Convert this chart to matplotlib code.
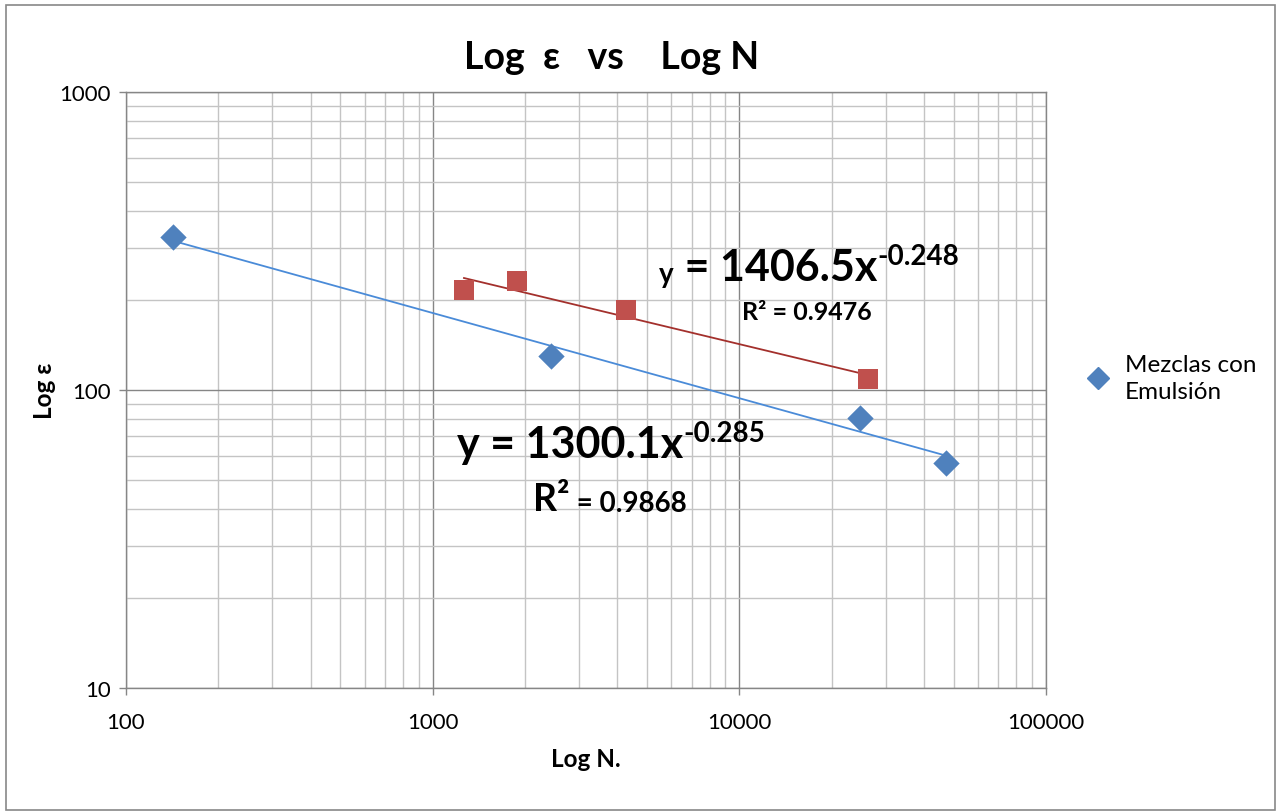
"""Log eps vs Log N: fatigue points for two mixtures with power-law trendlines."""
import matplotlib
matplotlib.use("Agg")
import matplotlib.pyplot as plt
import numpy as np
from matplotlib.lines import Line2D
from matplotlib.patches import Rectangle
from matplotlib.ticker import LogLocator, FixedFormatter, FixedLocator, NullFormatter

plt.rcParams["font.family"] = ["Lato", "DejaVu Sans"]

# ── data ───────────────────────────────────────────────────
N_EMUL = [142, 2430, 24700, 47200]
EPS_EMUL = [326, 130, 80.5, 57]
N_OTHER = [1265, 1885, 4270, 26200]
EPS_OTHER = [216, 232, 185, 109]

X_TICKS = [100, 1000, 10000, 100000]
X_LABELS = ["100", "1000", "10000", "100000"]
Y_TICKS = [10, 100, 1000]
Y_LABELS = ["10", "100", "1000"]

BLUE = "#4F81BD"
BLUE_LINE = "#4A8BD8"
RED = "#C0504D"
RED_LINE = "#A3302C"
GRID_MAJ = "#868686"
GRID_MIN = "#C4C4C4"

W, H = 1276, 812


def fx(px):
    return px / W


def fy(py):
    return 1 - py / H


def power_fit(x, y):
    slope, icpt = np.polyfit(np.log10(x), np.log10(y), 1)
    xs = np.array([min(x), max(x)], dtype=float)
    return xs, 10 ** icpt * xs ** slope


fig = plt.figure(figsize=(W / 100, H / 100), dpi=100)
ax = fig.add_axes([fx(126), fy(689), fx(1046) - fx(126), fy(93) - fy(689)])

ax.set_xscale("log")
ax.set_yscale("log")
ax.set_xlim(100, 100000)
ax.set_ylim(10, 1000)

ax.xaxis.set_major_locator(FixedLocator(X_TICKS))
ax.xaxis.set_major_formatter(FixedFormatter(X_LABELS))
ax.yaxis.set_major_locator(FixedLocator(Y_TICKS))
ax.yaxis.set_major_formatter(FixedFormatter(Y_LABELS))
for a in (ax.xaxis, ax.yaxis):
    a.set_minor_locator(LogLocator(base=10, subs=np.arange(2, 10)))
    a.set_minor_formatter(NullFormatter())

ax.grid(True, which="major", color=GRID_MAJ, lw=1.0, zorder=0)
ax.grid(True, which="minor", color=GRID_MIN, lw=1.0, zorder=0)
ax.set_axisbelow(True)
for s in ax.spines.values():
    s.set_color(GRID_MAJ)
    s.set_linewidth(1.0)
ax.tick_params(which="major", direction="out", length=5, width=1,
               color=GRID_MAJ, labelsize=16)
ax.tick_params(axis="x", which="major", pad=12)
ax.tick_params(axis="y", which="major", pad=6)
ax.tick_params(which="minor", length=0)

# trendlines (power fits)
xs, ys = power_fit(N_EMUL, EPS_EMUL)
ax.plot(xs, ys, color=BLUE_LINE, lw=1.3, zorder=2)
xs, ys = power_fit(N_OTHER, EPS_OTHER)
ax.plot(xs, ys, color=RED_LINE, lw=1.3, zorder=2)

ax.scatter(N_EMUL, EPS_EMUL, marker="D", s=180, color=BLUE, zorder=3,
           linewidths=0)
ax.scatter(N_OTHER, EPS_OTHER, marker="s", s=210, color=RED, zorder=3,
           linewidths=0)

ax.set_xlabel("Log N.", fontsize=17.5, fontweight="bold", labelpad=11)
ax.set_ylabel("Log ε", fontsize=17.5, fontweight="bold", labelpad=2)

fig.text(fx(612), fy(58), "Log  ε   vs    Log N", ha="center", va="center",
         fontsize=27, fontweight="bold")

handle = Line2D([], [], marker="D", ls="none", color=BLUE, ms=11)
ax.legend([handle], ["Mezclas con\nEmulsión"], loc="center left",
          bbox_to_anchor=(1.02, 0.52), frameon=False, fontsize=17.5,
          handletextpad=0.6, handlelength=1.0)
for txt in ax.get_legend().get_texts():
    txt.set_linespacing(1.35)

# equation labels
t = fig.text(fx(457), fy(458), "y = 1300.1x", fontsize=31,
             fontweight="bold", va="baseline")
ax.annotate("-0.285", xy=(1, 1), xycoords=t, xytext=(0, 3),
            textcoords="offset points", va="top", fontsize=20,
            fontweight="bold")
t = fig.text(fx(533), fy(511), "R²", fontsize=27, fontweight="bold",
             va="baseline")
ax.annotate(" = 0.9868", xy=(1, 0), xycoords=t, va="bottom", fontsize=20,
            fontweight="bold")

t = fig.text(fx(659), fy(283), "y", fontsize=20, fontweight="bold",
             va="baseline")
t = ax.annotate(" = 1406.5x", xy=(1, 0), xycoords=t, va="bottom",
                fontsize=31, fontweight="bold")
ax.annotate("-0.248", xy=(1, 1), xycoords=t, xytext=(0, 3),
            textcoords="offset points", va="top", fontsize=20,
            fontweight="bold")
fig.text(fx(742), fy(320), "R² = 0.9476", fontsize=18, fontweight="bold",
         va="baseline")

fig.patches.append(Rectangle((fx(6), fy(811)), fx(1269), 805 / H,
                             transform=fig.transFigure, fill=False,
                             edgecolor="#888888", lw=1.2))

fig.savefig("out.png", dpi=100)
